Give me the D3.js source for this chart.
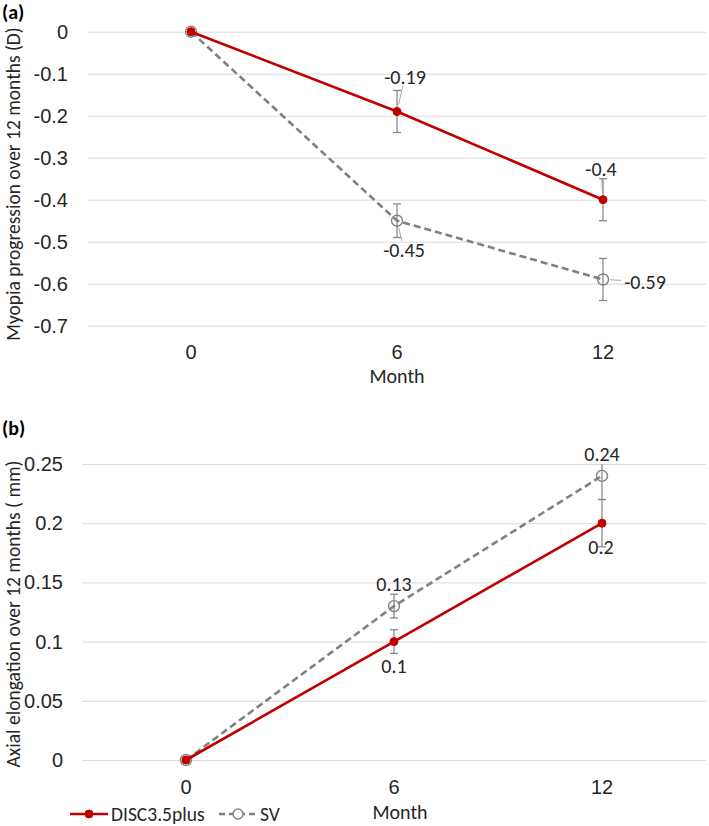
<!DOCTYPE html>
<html>
<head>
<meta charset="utf-8">
<script src="https://cdn.jsdelivr.net/npm/d3@7"></script>
<style>
  body { margin: 0; background: #fff; }
  svg { display: block; font-family: Carlito, Lato, sans-serif; }
</style>
</head>
<body>
<div id="chart"></div>
<script>
// Data
const months = ["0", "6", "12"];
const seriesNames = ["DISC3.5plus", "SV"];

const myopiaDisc = [0, -0.19, -0.4];
const myopiaDiscErr = [0, 0.05, 0.05];
const myopiaSv = [0, -0.45, -0.59];
const myopiaSvErr = [0, 0.04, 0.05];
const myopiaTicks = [0, -0.1, -0.2, -0.3, -0.4, -0.5, -0.6, -0.7];

const axialDisc = [0, 0.1, 0.2];
const axialDiscErr = [0, 0.01, 0.02];
const axialSv = [0, 0.13, 0.24];
const axialSvErr = [0, 0.01, 0.02];
const axialTicks = [0, 0.05, 0.1, 0.15, 0.2, 0.25];

const width = 709;
const height = 826;
const red = "#c00000";
const grey = "#808080";
const textColor = "#262626";
const fs = "20px";
const titleFs = "19.5px";

const svg = d3
  .select("#chart")
  .append("svg")
  .attr("width", width)
  .attr("height", height);

// plain hyphen-minus like the original, not the unicode minus
const fmt = (v) => String(+v.toFixed(2));

// Draw one panel. Label offsets are [dx, dy] in px from the point.
function panel(opt) {
  const x = d3.scaleBand().domain(months).range([opt.left, opt.right]);
  const cx = (m) => x(m) + x.bandwidth() / 2;
  const y = d3.scaleLinear().domain(opt.domain).range([opt.bottom, opt.top]);
  const g = svg.append("g");

  // gridlines + y tick labels
  const yAxis = g
    .append("g")
    .attr("transform", `translate(${opt.left},0)`)
    .call(
      d3
        .axisLeft(y)
        .tickValues(opt.ticks)
        .tickSize(-(opt.right - opt.left))
        .tickPadding(opt.yPad)
        .tickFormat(fmt),
    );
  yAxis.select(".domain").remove();
  yAxis.selectAll("line").attr("stroke", "#d9d9d9").attr("stroke-width", 1);
  yAxis.selectAll("text").attr("fill", textColor).style("font-size", fs);

  // x tick labels
  const xAxis = g
    .append("g")
    .attr("transform", `translate(0,${opt.bottom})`)
    .call(d3.axisBottom(x).tickSize(0).tickPadding(opt.xPad));
  xAxis.select(".domain").remove();
  xAxis
    .selectAll("text")
    .attr("dy", "0.35em")
    .attr("fill", textColor)
    .style("font-size", fs);

  // axis titles
  g.append("text")
    .attr("x", opt.xTitle[0])
    .attr("y", opt.xTitle[1])
    .attr("text-anchor", "middle")
    .attr("dy", "0.35em")
    .attr("fill", textColor)
    .style("font-size", fs)
    .text("Month");
  g.append("text")
    .attr("transform", `translate(13,${opt.yTitleMid}) rotate(-90)`)
    .attr("text-anchor", "middle")
    .attr("dy", "0.35em")
    .attr("fill", textColor)
    .style("font-size", titleFs)
    .text(opt.yTitle);
  g.append("text")
    .attr("x", 2)
    .attr("y", opt.tag[1])
    .attr("dy", "0.35em")
    .attr("fill", "#000")
    .style("font-size", fs)
    .style("font-weight", "bold")
    .text(opt.tag[0]);

  const clamp = (v) => Math.max(opt.domain[0], Math.min(opt.domain[1], v));

  const series = [
    { vals: opt.sv, err: opt.svErr, color: grey, dash: "7,4", open: true, lab: opt.svLab },
    { vals: opt.disc, err: opt.discErr, color: red, dash: null, open: false, lab: opt.discLab },
  ];

  // error bars
  series.forEach((s) => {
    const eb = g.append("g").attr("stroke", grey).attr("stroke-width", 1.2);
    months.forEach((m, i) => {
      if (!s.err[i]) return;
      const hi = s.vals[i] + s.err[i];
      const lo = s.vals[i] - s.err[i];
      eb.append("line")
        .attr("x1", cx(m)).attr("x2", cx(m))
        .attr("y1", y(clamp(hi))).attr("y2", y(clamp(lo)));
      [hi, lo].forEach((v) => {
        if (v > opt.domain[1] || v < opt.domain[0]) return;
        eb.append("line")
          .attr("x1", cx(m) - 4).attr("x2", cx(m) + 4)
          .attr("y1", y(v)).attr("y2", y(v));
      });
    });
  });

  // lines and markers
  const line = d3
    .line()
    .x((d, i) => cx(months[i]))
    .y((d) => y(d));
  series.forEach((s) => {
    g.append("path")
      .attr("d", line(s.vals))
      .attr("fill", "none")
      .attr("stroke", s.color)
      .attr("stroke-width", 2.6)
      .attr("stroke-dasharray", s.dash);
    g.selectAll(null)
      .data(s.vals)
      .join("circle")
      .attr("cx", (d, i) => cx(months[i]))
      .attr("cy", (d) => y(d))
      .attr("r", s.open ? 5.5 : 4)
      .attr("fill", s.open ? "none" : s.color)
      .attr("stroke", s.color)
      .attr("stroke-width", s.open ? 1.4 : 1);
  });

  // data labels with leader lines
  series.forEach((s) => {
    months.forEach((m, i) => {
      const off = s.lab[i];
      if (!off) return;
      const px = cx(m), py = y(s.vals[i]);
      const lx = px + off[0], ly = py + off[1];
      if (opt.leaders) {
        const len = Math.hypot(off[0], off[1]);
        const ux = off[0] / len, uy = off[1] / len;
        const t =
          Math.min(
            ux ? 22 / Math.abs(ux) : Infinity,
            uy ? 7 / Math.abs(uy) : Infinity,
          ) + 2;
        const sx = px + ux * 7, sy = py + uy * 7;
        const ex = lx - ux * t, ey = ly - uy * t;
        if (Math.hypot(ex - sx, ey - sy) > 3 && (ex - sx) * ux + (ey - sy) * uy > 0) {
          g.append("line")
            .attr("x1", sx).attr("y1", sy)
            .attr("x2", ex).attr("y2", ey)
            .attr("stroke", "#a6a6a6")
            .attr("stroke-width", 1);
        }
      }
      g.append("text")
        .attr("x", lx)
        .attr("y", ly)
        .attr("dy", "0.35em")
        .attr("text-anchor", "middle")
        .attr("fill", textColor)
        .style("font-size", fs)
        .text(fmt(s.vals[i]));
    });
  });
}

panel({
  left: 88, right: 706, top: 31.7, bottom: 325.7,
  domain: [-0.7, 0], ticks: myopiaTicks, yPad: 20, xPad: 26,
  yTitle: "Myopia progression over 12 months (D)", yTitleMid: 184,
  xTitle: [397, 376], tag: ["(a)", 12],
  disc: myopiaDisc, discErr: myopiaDiscErr,
  sv: myopiaSv, svErr: myopiaSvErr,
  discLab: [null, [8, -35], [-2, -31]],
  svLab: [null, [7, 29], [42, 2]],
  leaders: true,
});

panel({
  left: 82, right: 706, top: 464, bottom: 760,
  domain: [0, 0.25], ticks: axialTicks, yPad: 19, xPad: 27,
  yTitle: "Axial elongation over 12 months ( mm)", yTitleMid: 614,
  xTitle: [400, 812], tag: ["(b)", 428],
  disc: axialDisc, discErr: axialDiscErr,
  sv: axialSv, svErr: axialSvErr,
  discLab: [null, [0, 24], [-1, 24]],
  svLab: [null, [0, -22], [0, -22]],
  leaders: false,
});

// legend
const legend = svg.append("g").attr("transform", "translate(0,814)");
const legendItems = [
  { name: seriesNames[0], color: red, dash: null, open: false, x: 70 },
  { name: seriesNames[1], color: grey, dash: "6,4", open: true, x: 219 },
];
legendItems.forEach((d) => {
  legend.append("line")
    .attr("x1", d.x).attr("x2", d.x + 38)
    .attr("stroke", d.color)
    .attr("stroke-width", 2.6)
    .attr("stroke-dasharray", d.dash);
  legend.append("circle")
    .attr("cx", d.x + 19)
    .attr("r", d.open ? 5 : 4)
    .attr("fill", d.open ? "#fff" : d.color)
    .attr("stroke", d.color)
    .attr("stroke-width", d.open ? 1.4 : 1);
  legend.append("text")
    .attr("x", d.x + 41)
    .attr("dy", "0.35em")
    .attr("fill", textColor)
    .style("font-size", titleFs)
    .text(d.name);
});
</script>
</body>
</html>
